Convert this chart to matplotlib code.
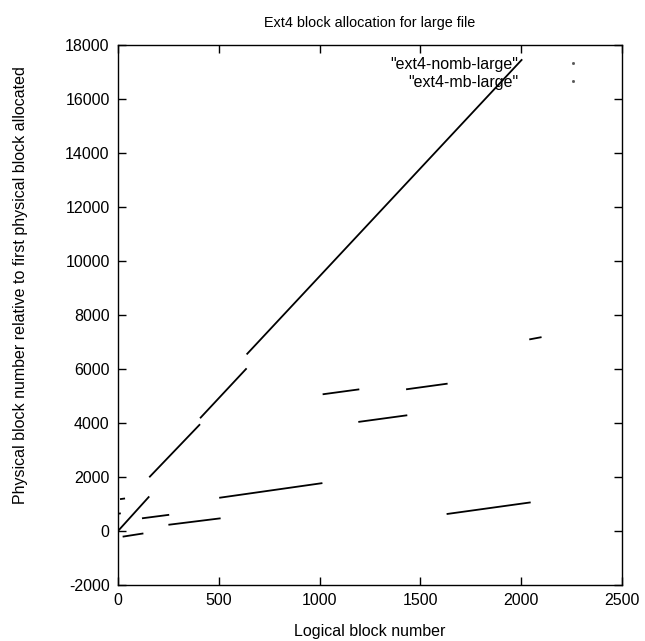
import matplotlib
matplotlib.use("Agg")
import matplotlib.pyplot as plt
from matplotlib.lines import Line2D

plt.rcParams['font.family'] = ['Liberation Sans', 'DejaVu Sans']
plt.rcParams['axes.unicode_minus'] = False

# Extents of series "ext4-nomb-large": (logical start, physical start, logical end, physical end)
nomb_x0 = [0, 155, 407, 638]
nomb_y0 = [0, 1990, 4176, 6540]
nomb_x1 = [155, 407, 638, 2005]
nomb_y1 = [1280, 3954, 6024, 17470]

# Extents of series "ext4-mb-large"
mb_x0 = [10, 0, 23, 119, 250, 502, 1015, 1192, 1429, 1630, 2040]
mb_y0 = [1180, 640, -210, 470, 230, 1230, 5063, 4040, 5247, 628, 7095]
mb_x1 = [35, 14, 126, 254, 509, 1014, 1197, 1435, 1635, 2047, 2101]
mb_y1 = [1205, 654, -90, 600, 470, 1774, 5247, 4287, 5458, 1060, 7180]

series_labels = ['"ext4-nomb-large"', '"ext4-mb-large"']
x_ticks = [0, 500, 1000, 1500, 2000, 2500]
y_ticks = list(range(-2000, 18001, 2000))

fig = plt.figure(figsize=(6.45, 6.41), dpi=100)
ax = fig.add_axes([118/645, 1 - 585/641, (622-118)/645, (585-45)/641])

for x0, y0, x1, y1 in zip(nomb_x0, nomb_y0, nomb_x1, nomb_y1):
    ax.plot([x0, x1], [y0, y1], color='black', lw=1.3, solid_capstyle='butt')
for x0, y0, x1, y1 in zip(mb_x0, mb_y0, mb_x1, mb_y1):
    ax.plot([x0, x1], [y0, y1], color='black', lw=1.3, solid_capstyle='butt')

ax.set_xlim(0, 2500)
ax.set_ylim(-2000, 18000)
ax.set_xticks(x_ticks)
ax.set_yticks(y_ticks)
ax.tick_params(direction='in', length=6, width=1, top=True, right=True,
               labelsize=11.5, pad=6)
for s in ax.spines.values():
    s.set_linewidth(1)

ax.set_title('Ext4 block allocation for large file', fontsize=10.4, pad=13)
ax.set_xlabel('Logical block number', fontsize=11.5, labelpad=11)
ax.set_ylabel('Physical block number relative to first physical block allocated',
              fontsize=11.5)
ax.yaxis.set_label_coords(-0.178, 0.556)

handles = [Line2D([], [], marker='s', markersize=1.0, color='#555555', linestyle='none'),
           Line2D([], [], marker='s', markersize=1.0, color='#555555', linestyle='none')]
leg = ax.legend(handles, series_labels, loc='upper right', frameon=False,
                markerfirst=False, fontsize=11.5, handlelength=2.5, handletextpad=2.2,
                borderaxespad=0.3, labelspacing=0.2, bbox_to_anchor=(0.965, 0.999))
for t in leg.get_texts():
    t.set_ha('right')
leg._legend_box.align = 'right'

fig.savefig('out.png', dpi=100)
